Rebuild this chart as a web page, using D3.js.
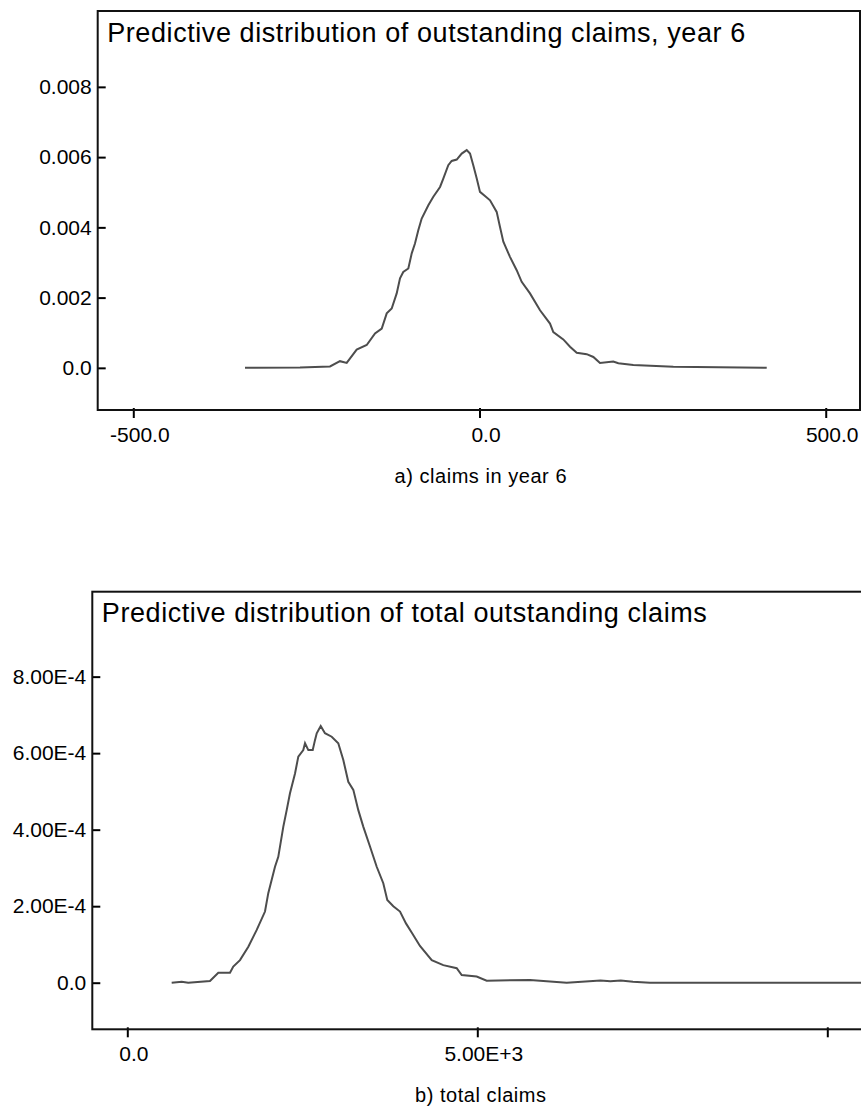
<!DOCTYPE html>
<html>
<head>
<meta charset="utf-8">
<script src="https://cdn.jsdelivr.net/npm/d3@7"></script>
<style>
  body { margin: 0; background: #fff; }
  text { font-family: "Liberation Sans", Arial, Helvetica, sans-serif; fill: #000; }
</style>
</head>
<body>
<svg id="chart" width="861" height="1107"></svg>
<script>
// year 6 claims, density
var yearX = [-338.7, -259.2, -215.9, -201.5, -191.8, -177.4, -162.9, -150.9, -141.2, -134.0,
  -126.8, -119.6, -114.8, -110.1, -102.8, -97.9, -93.2, -88.4, -83.5, -73.9,
  -66.7, -57.0, -52.3, -45.1, -40.2, -32.9, -25.7, -18.5, -13.7, -9.0,
  -4.0, 0.7, 7.9, 15.2, 24.8, 29.6, 34.4, 44.0, 53.7, 60.9,
  72.9, 87.4, 101.8, 106.6, 121.0, 130.7, 140.4, 154.8, 164.4, 174.0,
  193.2, 200.5, 222.1, 279.9, 414.8];
var yearY = [0, 0.00001, 0.00004, 0.00019, 0.00014, 0.00052, 0.00065, 0.00098, 0.00112, 0.00155,
  0.00169, 0.00212, 0.00255, 0.00273, 0.00283, 0.00326, 0.00354, 0.00392, 0.00425, 0.00463,
  0.00487, 0.00515, 0.00539, 0.00577, 0.00589, 0.00593, 0.00610, 0.00620, 0.00610, 0.00577,
  0.00539, 0.00501, 0.00489, 0.00477, 0.00444, 0.00401, 0.00359, 0.00316, 0.00278, 0.00245,
  0.00212, 0.00164, 0.00126, 0.00102, 0.00081, 0.00060, 0.00043, 0.00039, 0.00031, 0.00014,
  0.00018, 0.00013, 0.00008, 0.00003, 0];

// total claims
var totalX = [634, 777, 871, 1181, 1300, 1467, 1514, 1610, 1729, 1849,
  1967, 2014, 2110, 2157, 2229, 2277, 2324, 2396, 2443, 2514,
  2539, 2586, 2649, 2681, 2706, 2763, 2824, 2920, 3014, 3086,
  3157, 3229, 3300, 3371, 3467, 3563, 3657, 3714, 3800, 3896,
  3981, 4067, 4181, 4349, 4514, 4706, 4777, 4991, 5134, 5753,
  6277, 6760, 6900, 7050, 7224, 7467, 8000, 9000, 10000, 11000];
var totalY = [0, 0.0000026, 0, 0.0000044, 0.000026, 0.000026, 0.000042, 0.000059, 0.000094, 0.000138,
  0.000186, 0.000234, 0.000303, 0.000329, 0.000408, 0.000451, 0.000495, 0.000547, 0.000591, 0.000608,
  0.000626, 0.000608, 0.000608, 0.000634, 0.000652, 0.000671, 0.000652, 0.000643, 0.000626, 0.000582,
  0.000525, 0.000504, 0.000451, 0.000408, 0.000356, 0.000303, 0.000260, 0.000216, 0.000200, 0.000186,
  0.000155, 0.000130, 0.000096, 0.000059, 0.000046, 0.000038, 0.000020, 0.000016, 0.0000052, 0.000007,
  0, 0.000006, 0.000004, 0.000006, 0.0000026, 0, 0, 0, 0, 0];

var yearXTicks = [-500, 0, 500];
var yearXLabels = ["-500.0", "0.0", "500.0"];
var yearYTicks = [0, 0.002, 0.004, 0.006, 0.008];
var yearYLabels = ["0.0", "0.002", "0.004", "0.006", "0.008"];

var totalXTicks = [0, 5000, 10000];
var totalXLabels = ["0.0", "5.00E+3", ""];
var totalYTicks = [0, 0.0002, 0.0004, 0.0006, 0.0008];
var totalYLabels = ["0.0", "2.00E-4", "4.00E-4", "6.00E-4", "8.00E-4"];

var svg = d3.select("#chart");

function panel(p) {
  var g = svg.append("g");
  var x = d3.scaleLinear().domain(p.xDomain).range(p.xRange);
  var y = d3.scaleLinear().domain(p.yDomain).range(p.yRange);

  var left = p.xRange[0], right = p.xRange[1];
  var top = p.yRange[1], bottom = p.yRange[0];

  g.append("clipPath").attr("id", p.id + "-clip")
    .append("rect")
    .attr("x", left).attr("y", top)
    .attr("width", right - left).attr("height", bottom - top);

  var pts = d3.zip(p.xs, p.ys);
  g.append("path")
    .datum(pts)
    .attr("clip-path", "url(#" + p.id + "-clip)")
    .attr("fill", "none")
    .attr("stroke", "#4d4d4d")
    .attr("stroke-width", 2)
    .attr("d", d3.line().x(function(d) { return x(d[0]); }).y(function(d) { return y(d[1]); }));

  // x axis, ticks pointing down
  var xa = g.append("g")
    .attr("transform", "translate(0," + bottom + ")")
    .call(d3.axisBottom(x).tickValues(p.xTicks).tickSize(8).tickPadding(9)
      .tickFormat(function(d, i) { return p.xLabels[i]; }));
  xa.select(".domain").remove();
  xa.selectAll("line").attr("stroke", "#000").attr("stroke-width", 2).attr("y1", -2);
  xa.selectAll("text").attr("font-size", 21).attr("dx", 6).attr("fill", "#000")
    .style("font-family", "Liberation Sans, Arial, sans-serif");

  // y axis, ticks pointing in
  var ya = g.append("g")
    .attr("transform", "translate(" + left + ",0)")
    .call(d3.axisLeft(y).tickValues(p.yTicks).tickSize(-8).tickPadding(6)
      .tickFormat(function(d, i) { return p.yLabels[i]; }));
  ya.select(".domain").remove();
  ya.selectAll("line").attr("stroke", "#000").attr("stroke-width", 2);
  ya.selectAll("text").attr("font-size", 21).attr("fill", "#000")
    .style("font-family", "Liberation Sans, Arial, sans-serif");

  // frame
  g.append("rect")
    .attr("x", left).attr("y", top)
    .attr("width", right - left).attr("height", bottom - top)
    .attr("fill", "none")
    .attr("stroke", "#111")
    .attr("stroke-width", 2);

  g.append("text")
    .attr("x", left + 9.5)
    .attr("y", top + 30.5)
    .attr("font-size", 27)
    .attr("textLength", p.titleWidth)
    .attr("lengthAdjust", "spacing")
    .text(p.title);

  g.append("text")
    .attr("x", 480.5)
    .attr("y", bottom + 73)
    .attr("text-anchor", "middle")
    .attr("font-size", 20)
    .attr("textLength", p.subWidth)
    .attr("lengthAdjust", "spacing")
    .text(p.sub);
}

panel({
  id: "year",
  xs: yearX, ys: yearY,
  xDomain: [-551.4, 549.5], xRange: [97.7, 860],
  yDomain: [-0.0012, 0.01016], yRange: [410, 11],
  xTicks: yearXTicks, xLabels: yearXLabels,
  yTicks: yearYTicks, yLabels: yearYLabels,
  title: "Predictive distribution of outstanding claims, year 6", titleWidth: 638,
  sub: "a) claims in year 6", subWidth: 172
});

panel({
  id: "total",
  xs: totalX, ys: totalY,
  xDomain: [-500, 11000], xRange: [92.3, 897.3],
  yDomain: [-0.0001218, 0.001022], yRange: [1029.3, 591.7],
  xTicks: totalXTicks, xLabels: totalXLabels,
  yTicks: totalYTicks, yLabels: totalYLabels,
  title: "Predictive distribution of total outstanding claims", titleWidth: 605,
  sub: "b) total claims", subWidth: 131
});
</script>
</body>
</html>
